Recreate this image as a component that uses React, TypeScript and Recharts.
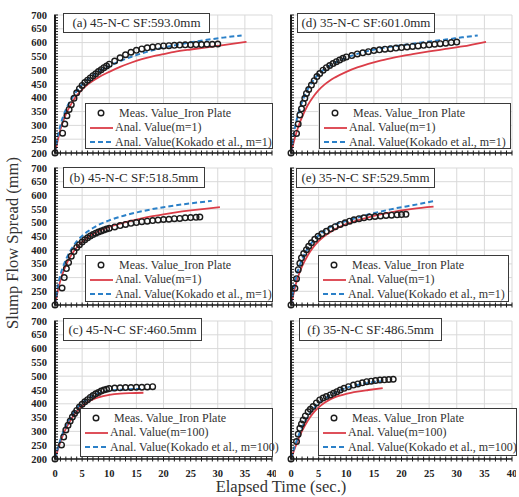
import React from "react";
import { CartesianGrid, Line, LineChart, XAxis, YAxis } from "recharts";

const FONT = '"Liberation Serif", "Times New Roman", serif';
const RED = "#db3d48";
const BLUE = "#2b80c8";
const INK = "#1c1c1c";

// axis ticks
const xMajor = [0, 5, 10, 15, 20, 25, 30, 35, 40];
const yMajor = [200, 250, 300, 350, 400, 450, 500, 550, 600, 650, 700];
const xMinor = Array.from({ length: 41 }, (_, i) => i);
const yMinor = Array.from({ length: 51 }, (_, i) => 200 + i * 10);

// line time grids
const lineT = [0, 0.5, 1, 1.5, 2, 3, 4, 5, 6, 7, 8, 10, 12, 14, 16, 18, 20, 22, 25, 28, 31];
const shortT = [0, 0.5, 1, 1.5, 2, 3, 4, 5, 6, 7, 8, 10, 12, 14];

// (a) 45-N-C SF:593.0mm
const aMeasT = [0, 1.4, 1.8, 2.2, 2.6, 3, 3.5, 4, 4.5, 5, 5.5, 6, 6.5, 7, 7.5, 8, 8.5, 9, 9.5, 10, 11, 12, 13, 14, 15, 16, 17, 18, 19, 20, 21, 22, 23, 24, 25, 26, 27, 28, 29, 30];
const aMeas = [200, 272, 305, 335, 358, 375, 398, 418, 433, 445, 455, 464, 472, 480, 487, 495, 502, 509, 515, 522, 533, 545, 556, 565, 572, 577, 581, 584, 586, 588, 589, 590, 591, 592, 592, 593, 593, 594, 594, 595];
const aRed = [200, 245, 285, 315, 340, 378, 408, 430, 448, 462, 474, 494, 512, 527, 540, 550, 558, 566, 575, 583, 591];
const aRedEnd = { t: 35.3, v: 603 };
const aBlue = [200, 260, 300, 332, 357, 395, 425, 448, 466, 481, 494, 515, 533, 548, 561, 572, 582, 590, 601, 610, 618];
const aBlueEnd = { t: 34.4, v: 626 };

// (b) 45-N-C SF:518.5mm
const bMeasT = [0, 1.3, 1.7, 2.1, 2.5, 3, 3.5, 4, 4.5, 5, 5.5, 6, 6.5, 7, 7.5, 8, 8.5, 9, 9.5, 10, 11, 12, 13, 14, 15, 16, 17, 18, 19, 20, 21, 22, 23, 24, 25, 26, 26.7];
const bMeas = [200, 262, 300, 333, 355, 378, 395, 410, 420, 430, 438, 445, 452, 457, 462, 466, 470, 474, 477, 480, 485, 490, 494, 498, 501, 504, 506, 508, 510, 512, 513, 515, 516, 518, 519, 520, 521];
const bRedT = [0, 0.5, 1, 1.5, 2, 3, 4, 5, 6, 7, 8, 10, 12, 14, 16, 18, 20, 22, 25, 28, 30.4];
const bRed = [200, 250, 290, 320, 345, 382, 410, 430, 446, 459, 469, 485, 497, 507, 516, 524, 531, 537, 545, 552, 557];
const bBlueT = [0, 0.5, 1, 1.5, 2, 3, 4, 5, 6, 7, 8, 10, 12, 14, 16, 18, 20, 22, 25, 28.9];
const bBlue = [200, 265, 310, 340, 365, 403, 432, 452, 468, 481, 492, 509, 522, 533, 542, 550, 557, 563, 571, 580];

// (c) 45-N-C SF:460.5mm
const cMeasT = [0, 1.2, 1.6, 2, 2.4, 2.8, 3.2, 3.6, 4, 4.5, 5, 5.5, 6, 6.5, 7, 7.5, 8, 8.5, 9, 9.5, 10, 11, 12, 13, 14, 15, 16, 17, 18];
const cMeas = [200, 251, 280, 305, 322, 338, 352, 365, 376, 388, 398, 407, 415, 423, 430, 436, 441, 446, 450, 453, 455, 457, 458, 459, 459, 460, 460, 461, 462];
const cRed = [200, 232, 262, 288, 310, 345, 372, 392, 406, 416, 423, 432, 437, 439];
const cBlue = [200, 238, 270, 297, 320, 356, 383, 403, 418, 430, 438, 447, 451, 453];
const cEnd = { t: 16.3, red: 440, blue: 454 };

// (d) 35-N-C SF:601.0mm
const dMeasT = [0, 1, 1.3, 1.6, 1.9, 2.2, 2.5, 2.8, 3.2, 3.7, 4.2, 4.7, 5.2, 5.8, 6.4, 7, 7.6, 8.2, 8.8, 9.4, 10, 11, 12, 13, 14, 15, 16, 17, 18, 19, 20, 21, 22, 23, 24, 25, 26, 27, 28, 29, 30];
const dMeas = [200, 271, 305, 338, 360, 380, 398, 416, 430, 446, 462, 477, 488, 500, 509, 517, 524, 531, 537, 543, 548, 553, 559, 563, 567, 571, 574, 576, 578, 580, 582, 584, 586, 588, 590, 592, 594, 596, 598, 600, 602];
const dRed = [200, 240, 275, 305, 330, 372, 403, 428, 447, 462, 474, 494, 510, 523, 534, 543, 551, 558, 568, 577, 586];
const dRedEnd = { t: 35.3, v: 603 };
const dBlue = [200, 270, 318, 355, 385, 430, 462, 486, 503, 516, 527, 545, 559, 570, 579, 585, 590, 596, 604, 611, 619];
const dBlueEnd = { t: 33.8, v: 626 };

// (e) 35-N-C SF:529.5mm
const eMeasT = [0, 0.7, 1, 1.3, 1.6, 1.9, 2.3, 2.8, 3.2, 3.7, 4.3, 4.9, 5.6, 6.4, 7.2, 8, 8.9, 9.8, 10.6, 11.4, 12.3, 13.2, 14.2, 15.2, 16.2, 17.2, 18.2, 19.2, 20, 20.8];
const eMeas = [200, 261, 296, 329, 352, 372, 388, 402, 414, 427, 440, 451, 460, 469, 478, 486, 494, 500, 506, 511, 515, 518, 521, 523, 525, 527, 528, 529, 530, 531];
const eLineT = [0, 0.5, 1, 1.5, 2, 3, 4, 5, 6, 7, 8, 10, 12, 14, 16, 18, 20, 22, 25.8];
const eRed = [200, 245, 285, 316, 341, 380, 410, 433, 451, 465, 477, 495, 509, 520, 530, 538, 545, 551, 559];
const eBlue = [200, 262, 308, 340, 366, 405, 433, 454, 470, 483, 494, 507, 519, 530, 540, 549, 557, 564, 579];

// (f) 35-N-C SF:486.5mm
const fMeasT = [0, 1, 1.3, 1.6, 1.9, 2.2, 2.6, 3.1, 3.5, 4, 4.6, 5.2, 5.8, 6.4, 7.1, 7.7, 8.3, 8.9, 9.6, 10.4, 11.3, 12.1, 12.9, 13.7, 14.5, 15.3, 16.1, 16.9, 17.7, 18.5];
const fMeas = [200, 263, 290, 311, 327, 341, 356, 371, 380, 390, 403, 414, 421, 426, 432, 438, 444, 450, 456, 462, 468, 472, 476, 480, 482, 484, 486, 487, 488, 489];
const fRed = [200, 228, 255, 280, 302, 338, 366, 387, 403, 415, 424, 436, 444, 450];
const fBlue = [200, 235, 265, 292, 315, 352, 380, 401, 417, 430, 440, 458, 468, 476];
const fEnd = { t: 16.6, red: 457, blue: 482 };

type Pt = { t: number; v: number };
const zip = (t: number[], v: number[]): Pt[] => t.map((x, i) => ({ t: x, v: v[i] }));

const panels = [
  {
    id: "a", title: "(a) 45-N-C SF:593.0mm", m: "1",
    plot: { x: 55, y: 15, w: 217, h: 138 }, yLabels: true, xLabels: false,
    titleBox: { x: 63, y: 13, w: 147, h: 20 }, legendBox: { x: 85, y: 103, w: 188, h: 46 },
    meas: zip(aMeasT, aMeas),
    red: [...zip(lineT, aRed), aRedEnd],
    blue: [...zip(lineT, aBlue), aBlueEnd],
  },
  {
    id: "b", title: "(b) 45-N-C SF:518.5mm", m: "1",
    plot: { x: 55, y: 168, w: 217, h: 137 }, yLabels: true, xLabels: false,
    titleBox: { x: 63, y: 167, w: 142, h: 21 }, legendBox: { x: 85, y: 255, w: 188, h: 47 },
    meas: zip(bMeasT, bMeas),
    red: zip(bRedT, bRed),
    blue: zip(bBlueT, bBlue),
  },
  {
    id: "c", title: "(c) 45-N-C SF:460.5mm", m: "100",
    plot: { x: 55, y: 321, w: 217, h: 138 }, yLabels: true, xLabels: true,
    titleBox: { x: 63, y: 318, w: 139, h: 23 }, legendBox: { x: 80, y: 408, w: 193, h: 49 },
    meas: zip(cMeasT, cMeas),
    red: [...zip(shortT, cRed), { t: cEnd.t, v: cEnd.red }],
    blue: [...zip(shortT, cBlue), { t: cEnd.t, v: cEnd.blue }],
  },
  {
    id: "d", title: "(d) 35-N-C SF:601.0mm", m: "1",
    plot: { x: 291, y: 15, w: 221, h: 138 }, yLabels: false, xLabels: false,
    titleBox: { x: 297, y: 13, w: 138, h: 20 }, legendBox: { x: 319, y: 103, w: 192, h: 46 },
    meas: zip(dMeasT, dMeas),
    red: [...zip(lineT, dRed), dRedEnd],
    blue: [...zip(lineT, dBlue), dBlueEnd],
  },
  {
    id: "e", title: "(e) 35-N-C SF:529.5mm", m: "1",
    plot: { x: 291, y: 168, w: 221, h: 137 }, yLabels: false, xLabels: false,
    titleBox: { x: 296, y: 168, w: 139, h: 20 }, legendBox: { x: 318, y: 255, w: 191, h: 47 },
    meas: zip(eMeasT, eMeas),
    red: zip(eLineT, eRed),
    blue: zip(eLineT, eBlue),
  },
  {
    id: "f", title: "(f) 35-N-C SF:486.5mm", m: "100",
    plot: { x: 291, y: 321, w: 221, h: 138 }, yLabels: false, xLabels: true,
    titleBox: { x: 299, y: 318, w: 143, h: 23 }, legendBox: { x: 318, y: 408, w: 199, h: 48 },
    meas: zip(fMeasT, fMeas),
    red: [...zip(shortT, fRed), { t: fEnd.t, v: fEnd.red }],
    blue: [...zip(shortT, fBlue), { t: fEnd.t, v: fEnd.blue }],
  },
];

const TOP = 6;
const LEFT = 50;
const BOTTOM = 24;

function XTick(props: any) {
  const { x, y, payload, showLabel } = props;
  const v = payload.value;
  return (
    <g>
      <line x1={x} x2={x} y1={y - 2.5} y2={y + 2.5} stroke={INK} strokeWidth={1} />
      {showLabel && v % 5 === 0 && (
        <text x={x} y={y + 17.5} textAnchor="middle" fontFamily={FONT} fontWeight="bold" fontSize={10.5} fill="#222">
          {v}
        </text>
      )}
    </g>
  );
}

function YTick(props: any) {
  const { x, y, payload, showLabel } = props;
  const v = payload.value;
  return (
    <g>
      <line x1={x - 1} x2={x + 3} y1={y} y2={y} stroke={INK} strokeWidth={1} />
      {showLabel && v % 50 === 0 && (
        <text x={x - 8} y={y + 3.5} textAnchor="end" fontFamily={FONT} fontWeight="bold" fontSize={10.5} fill="#222">
          {v}
        </text>
      )}
    </g>
  );
}

function Legend({ box, m }: { box: { x: number; y: number; w: number; h: number }; m: string }) {
  const rows = [
    { key: "meas", label: "Meas. Value_Iron Plate" },
    { key: "red", label: `Anal. Value(m=${m})` },
    { key: "blue", label: `Anal. Value(Kokado et al., m=${m})` },
  ];
  return (
    <div
      style={{
        position: "absolute", left: box.x, top: box.y, width: box.w, height: box.h,
        boxSizing: "border-box", border: "1.5px solid #3a3a3a", background: "#fff",
        fontFamily: FONT, fontSize: 12, color: "#333", paddingTop: 2,
      }}
    >
      {rows.map((r) => (
        <div key={r.key} style={{ display: "flex", alignItems: "center", height: 14.5, whiteSpace: "nowrap" }}>
          <svg width={29} height={10} style={{ flex: "none" }}>
            {r.key === "meas" && <circle cx={15} cy={5} r={2.8} fill="none" stroke={INK} strokeWidth={1.4} />}
            {r.key === "red" && <line x1={4} x2={27} y1={5} y2={5} stroke={RED} strokeWidth={1.8} />}
            {r.key === "blue" && <line x1={4} x2={27} y1={5} y2={5} stroke={BLUE} strokeWidth={2} strokeDasharray="5 3" />}
          </svg>
          <span style={{ marginLeft: r.key === "meas" ? 4 : 0 }}>{r.label}</span>
        </div>
      ))}
    </div>
  );
}

function Panel({ p }: { p: (typeof panels)[number] }) {
  const { x, y, w, h } = p.plot;
  return (
    <div style={{ position: "absolute", left: x - LEFT, top: y - TOP }}>
      <LineChart width={w + LEFT + 4} height={h + TOP + BOTTOM} margin={{ top: TOP, right: 4, left: 0, bottom: 0 }}>
        <CartesianGrid stroke="#d9d9d9" strokeWidth={1} horizontalValues={yMajor} verticalValues={xMajor} />
        <XAxis
          type="number" dataKey="t" domain={[0, 40]} ticks={xMinor} interval={0}
          tickSize={0} tickMargin={0} tickLine={false} height={BOTTOM}
          axisLine={{ stroke: INK, strokeWidth: 1.5 }}
          tick={(tp: any) => <XTick {...tp} showLabel={p.xLabels} />}
        />
        <YAxis
          type="number" domain={[200, 700]} ticks={yMinor} interval={0} width={LEFT}
          tickSize={0} tickMargin={0} tickLine={false}
          axisLine={{ stroke: INK, strokeWidth: 2 }}
          tick={(tp: any) => <YTick {...tp} showLabel={p.yLabels} />}
        />
        <Line data={p.red} dataKey="v" type="monotone" stroke={RED} strokeWidth={1.8} dot={false} isAnimationActive={false} />
        <Line data={p.blue} dataKey="v" type="monotone" stroke={BLUE} strokeWidth={2} strokeDasharray="5 3" dot={false} isAnimationActive={false} />
        <Line
          data={p.meas} dataKey="v" stroke="none" strokeWidth={0} isAnimationActive={false}
          dot={{ r: 2.8, fill: "none", stroke: INK, strokeWidth: 1.4 }}
        />
      </LineChart>
    </div>
  );
}

export default function App() {
  return (
    <div style={{ position: "absolute", left: 0, top: 0, width: 519, height: 497, background: "#fff", overflow: "hidden" }}>
      {panels.map((p) => (
        <Panel key={p.id} p={p} />
      ))}
      {panels.map((p) => (
        <React.Fragment key={p.id + "o"}>
          <div
            style={{
              position: "absolute", left: p.titleBox.x, top: p.titleBox.y, width: p.titleBox.w, height: p.titleBox.h,
              boxSizing: "border-box", border: "1.5px solid #3a3a3a", background: "#fff",
              fontFamily: FONT, fontSize: 13, color: "#2a2a2a", display: "flex", alignItems: "center",
              justifyContent: "center", whiteSpace: "nowrap",
            }}
          >
            {p.title}
          </div>
          <Legend box={p.legendBox} m={p.m} />
        </React.Fragment>
      ))}
      <div
        style={{
          position: "absolute", left: 13, top: 243, transform: "translate(-50%, -50%) rotate(-90deg)",
          fontFamily: FONT, fontSize: 16.5, color: "#333", whiteSpace: "nowrap",
        }}
      >
        Slump Flow Spread (mm)
      </div>
      <div
        style={{
          position: "absolute", left: 281, top: 487, transform: "translate(-50%, -50%)",
          fontFamily: FONT, fontSize: 16.5, color: "#333", whiteSpace: "nowrap",
        }}
      >
        Elapsed Time (sec.)
      </div>
    </div>
  );
}
